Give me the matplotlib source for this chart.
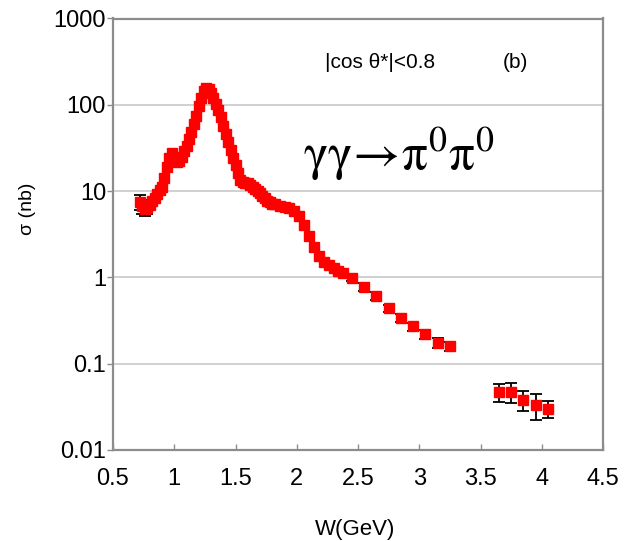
import numpy as np
import matplotlib
matplotlib.use('Agg')
import matplotlib.pyplot as plt
from matplotlib.ticker import FixedLocator, FixedFormatter, NullLocator

plt.rcParams['font.family'] = ['Liberation Sans', 'DejaVu Sans']
plt.rcParams['mathtext.fontset'] = 'stix'

# gamma gamma -> pi0 pi0 cross section, |cos theta*| < 0.8
W = [0.72, 0.74, 0.76, 0.78, 0.80, 0.82, 0.84, 0.86, 0.88, 0.90,
     0.92, 0.94, 0.96, 0.98, 1.00, 1.02, 1.04, 1.06, 1.08, 1.10,
     1.12, 1.14, 1.16, 1.18, 1.20, 1.22, 1.24, 1.26, 1.28, 1.30,
     1.32, 1.34, 1.36, 1.38, 1.40, 1.42, 1.44, 1.46, 1.48, 1.50,
     1.52, 1.54, 1.56, 1.58, 1.60, 1.62, 1.64, 1.66, 1.68, 1.70,
     1.72, 1.74, 1.76, 1.78, 1.80,
     1.82, 1.86, 1.90, 1.94, 1.98, 2.02, 2.06, 2.10, 2.14, 2.18,
     2.22, 2.26, 2.30, 2.34, 2.38,
     2.45, 2.55, 2.65, 2.75, 2.85, 2.95, 3.05, 3.15, 3.25,
     3.65, 3.75, 3.85, 3.95, 4.05]

sigma = [7.5, 6.7, 6.2, 6.4, 6.9, 7.7, 8.3, 9.3, 10.3, 11.1,
         14.2, 19.0, 24.2, 27.6, 23.5, 21.7, 22.3, 24.8, 29.2, 33.3,
         40.2, 48.4, 60.0, 74.0, 97.0, 120.0, 145.0, 157.0, 152.0, 137.0,
         120.0, 102.0, 87.0, 72.0, 57.0, 46.0, 37.0, 30.0, 24.2, 20.0,
         16.2, 13.4, 12.7, 12.4, 12.4, 11.8, 11.1, 10.6, 10.0, 9.5,
         8.8, 8.3, 7.7, 7.5, 7.1,
         7.1, 6.7, 6.5, 6.4, 5.9, 5.1, 4.0, 3.0, 2.25, 1.77,
         1.51, 1.39, 1.28, 1.19, 1.12,
         0.98, 0.77, 0.61, 0.44, 0.34, 0.27, 0.22, 0.174, 0.16,
         0.047, 0.047, 0.038, 0.033, 0.030]

# errors only where they show beyond the markers
err = [1.5, 1.2, 1.1, 0.9, 0.6, 0, 0, 0, 0, 0,
       0, 0, 0, 0, 0, 0, 0, 0, 0, 0,
       0, 0, 0, 0, 0, 0, 0, 0, 0, 0,
       0, 0, 0, 0, 0, 0, 0, 0, 0, 0,
       0, 0, 0, 0, 0, 0, 0, 0, 0, 0,
       0, 0, 0, 0, 0,
       0, 0, 0, 0, 0, 0, 0, 0, 0, 0,
       0, 0, 0, 0, 0,
       0.08, 0.08, 0.06, 0.045, 0.035, 0.03, 0.025, 0.022, 0.02,
       0.011, 0.012, 0.010, 0.011, 0.0065]

xTicks = [0.5, 1, 1.5, 2, 2.5, 3, 3.5, 4, 4.5]
xLabs = ['0.5', '1', '1.5', '2', '2.5', '3', '3.5', '4', '4.5']
yTicks = [0.01, 0.1, 1, 10, 100, 1000]
yLabs = ['0.01', '0.1', '1', '10', '100', '1000']

W = np.array(W)
sigma = np.array(sigma)
err = np.array(err)
hasErr = err > 0

fig = plt.figure(figsize=(6.28, 5.41), dpi=100)
ax = fig.add_axes([113/628, 1 - 450/541, 490/628, (450 - 18.5)/541])

ax.set_yscale('log')
ax.set_xlim(0.5, 4.5)
ax.set_ylim(0.01, 1000)

ax.errorbar(W[hasErr], sigma[hasErr], yerr=err[hasErr], fmt='none',
            ecolor='black', elinewidth=1.3, capsize=4, capthick=1.3, zorder=3)
ax.plot(W, sigma, 's', color='#ff0000', mec='#ff0000', ms=6.5, zorder=4)

ax.xaxis.set_major_locator(FixedLocator(xTicks))
ax.xaxis.set_major_formatter(FixedFormatter(xLabs))
ax.yaxis.set_major_locator(FixedLocator(yTicks))
ax.yaxis.set_major_formatter(FixedFormatter(yLabs))
ax.yaxis.set_minor_locator(NullLocator())
ax.xaxis.set_minor_locator(NullLocator())

ax.tick_params(axis='x', direction='in', length=4, width=1, color='#8c8c8c',
               labelsize=17, pad=13)
ax.tick_params(axis='y', direction='out', length=4, width=1, color='#8c8c8c',
               labelsize=17, pad=1)

ax.grid(axis='y', color='#c8c8c8', lw=1.2)
ax.set_axisbelow(True)
for s in ax.spines.values():
    s.set_color('#8c8c8c')
    s.set_linewidth(1.6)

fig.text(355/628, 1 - 529/541, 'W(GeV)', fontsize=16, ha='center', va='center')
fig.text(28/628, 1 - 209/541, 'σ (nb)', fontsize=14, rotation=90,
         ha='center', va='center')

fig.text(380/628, 1 - 63/541, '|cos θ*|<0.8', fontsize=15, ha='center', va='center')
fig.text(515/628, 1 - 63/541, '(b)', fontsize=15, ha='center', va='center')
fig.text(303/628, 1 - 170/541,
         r'$\mathrm{\gamma\gamma}\!\rightarrow\!\mathrm{\pi}^0\mathrm{\pi}^0$',
         fontsize=37, ha='left', va='baseline')

fig.savefig('out.png', dpi=100)
